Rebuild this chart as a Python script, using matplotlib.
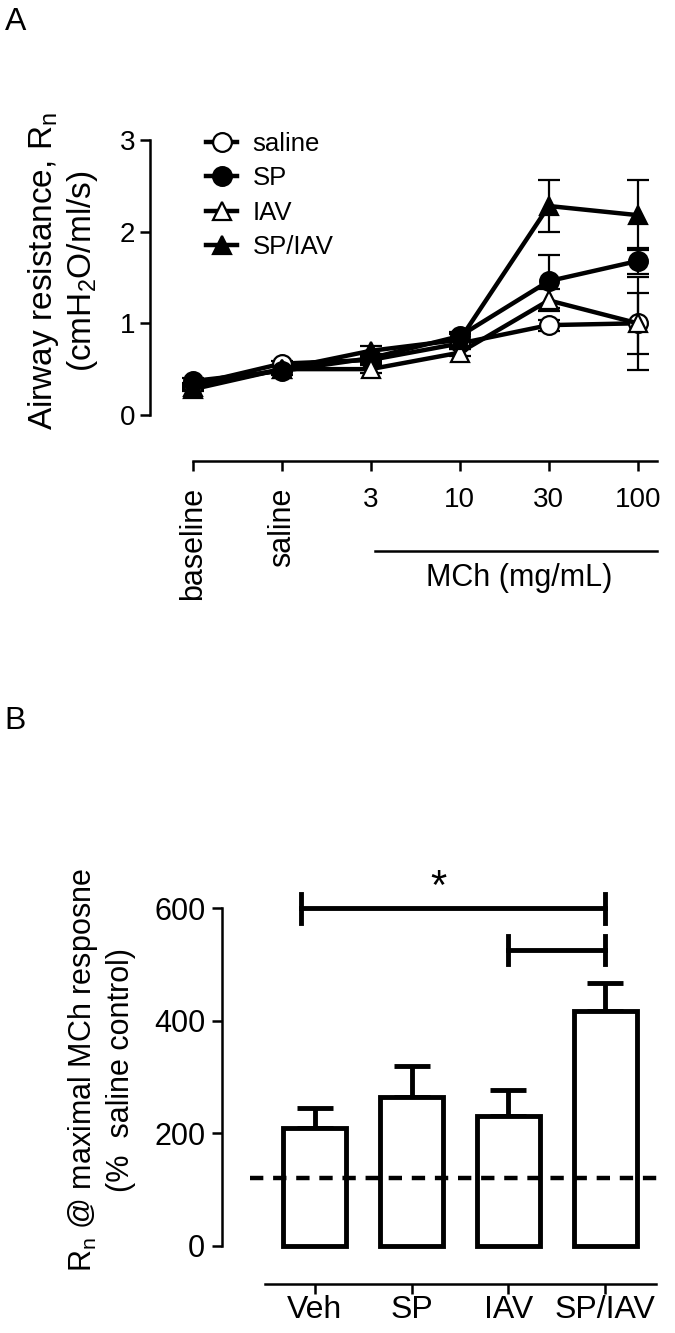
import numpy as np
import matplotlib
matplotlib.use('Agg')
import matplotlib.pyplot as plt
from matplotlib.lines import Line2D

plt.rcParams['font.family'] = ['Liberation Sans', 'DejaVu Sans']

# ---- Panel A data ----
doses = ['baseline', 'saline', '3', '10', '30', '100']
groups = ['saline', 'SP', 'IAV', 'SP/IAV']
rn_saline = [0.33, 0.56, 0.60, 0.78, 0.98, 1.00]
rn_sp = [0.37, 0.48, 0.62, 0.86, 1.46, 1.68]
rn_iav = [0.30, 0.50, 0.50, 0.68, 1.25, 1.00]
rn_spiav = [0.28, 0.50, 0.70, 0.82, 2.28, 2.18]
err_saline = [0.02, 0.03, 0.03, 0.04, 0.06, 0.33]
err_sp = [0.03, 0.04, 0.04, 0.05, 0.29, 0.14]
err_iav = [0.02, 0.03, 0.04, 0.04, 0.12, 0.51]
err_spiav = [0.02, 0.03, 0.05, 0.06, 0.28, 0.38]

# ---- Panel B data ----
bar_labels = ['Veh', 'SP', 'IAV', 'SP/IAV']
bar_values = [210, 265, 230, 418]
bar_err = [35, 55, 47, 50]
saline_ref = 120
brackets = [(-0.14, 3, 600), (2, 3, 526)]
star_pos = (1.28, 636)

fig = plt.figure(figsize=(6.75, 13.33), dpi=100)

# ================= Panel A =================
axA = fig.add_axes([0.2222, 0.6509, 0.7556, 0.2647])
x = np.arange(len(doses))
styles = [('o', 'white'), ('o', 'black'), ('^', 'white'), ('^', 'black')]
series = [rn_saline, rn_sp, rn_iav, rn_spiav]
errs = [err_saline, err_sp, err_iav, err_spiav]
for (mk, fc), y, e in zip(styles, series, errs):
    axA.errorbar(x, y, yerr=e, color='black', lw=3.2, marker=mk, ms=13.5,
                 mfc=fc, mec='black', mew=1.6, ecolor='black', elinewidth=1.6,
                 capsize=8, capthick=1.6, zorder=3)

axA.set_xlim(-0.48, 5.25)
axA.set_ylim(-0.55, 3.3)
axA.spines['top'].set_visible(False)
axA.spines['right'].set_visible(False)
axA.spines['left'].set_bounds(0, 3)
axA.spines['bottom'].set_position(('data', -0.5))
axA.spines['bottom'].set_bounds(0, 5.22)
for s in ['left', 'bottom']:
    axA.spines[s].set_linewidth(1.8)
axA.set_yticks([0, 1, 2, 3])
axA.set_yticklabels(['0', '1', '2', '3'], fontsize=20)
axA.set_xticks(x)
axA.set_xticklabels(doses, fontsize=20)
for lbl in axA.get_xticklabels()[:2]:
    lbl.set_rotation(90)
    lbl.set_va('top')
    lbl.set_fontsize(22)
axA.tick_params(axis='both', width=1.8, length=7)
axA.tick_params(axis='x', pad=12)
fig.text(63 / 675, 1 - 271 / 1333,
         'Airway resistance, R$_\\mathregular{n}$\n(cmH$_\\mathregular{2}$O/ml/s)',
         fontsize=24, rotation=90, ha='center', va='center', linespacing=1.15)

# MCh bracket line + label
axA.plot([2.05, 5.22], [-1.48, -1.48], color='black', lw=1.8, clip_on=False)
axA.text(3.67, -1.78, 'MCh (mg/mL)', fontsize=22, ha='center', va='center')

handles = [Line2D([0], [0], color='black', lw=3.2, marker=mk, ms=13.5, mfc=fc,
                  mec='black', mew=1.6) for mk, fc in styles]
axA.legend(handles, groups, loc='upper left', bbox_to_anchor=(0.065, 1.01),
           frameon=False, fontsize=18.5, handlelength=1.2, labelspacing=0.4,
           handletextpad=0.6)

fig.text(0.007, 0.995, 'A', fontsize=23, va='top', ha='left')

# ================= Panel B =================
axB = fig.add_axes([0.3289, 0.0338, 0.6607, 0.3184])
xb = np.arange(len(bar_labels))
axB.bar(xb, bar_values, width=0.65, color='white', edgecolor='black',
        linewidth=3.5, zorder=2)
axB.errorbar(xb, bar_values, yerr=[np.zeros(len(bar_err)), bar_err],
             fmt='none', ecolor='black', elinewidth=3.5, capsize=13,
             capthick=3.5, zorder=1)
axB.plot([-0.67, 3.62], [saline_ref, saline_ref], color='black', lw=3.2,
         ls=(0, (3, 2.2)), zorder=3, clip_on=False)

for x0, x1, yb in brackets:
    axB.plot([x0, x1], [yb, yb], color='black', lw=3.5, clip_on=False)
    for xe in (x0, x1):
        axB.plot([xe, xe], [yb - 25, yb + 25], color='black', lw=3.5, clip_on=False)
axB.text(star_pos[0], star_pos[1], '*', fontsize=30, ha='center', va='center')

axB.set_xlim(-0.96, 3.65)
axB.set_ylim(-75, 680)
axB.spines['top'].set_visible(False)
axB.spines['right'].set_visible(False)
axB.spines['left'].set_bounds(0, 600)
axB.spines['bottom'].set_position(('data', -68))
axB.spines['bottom'].set_bounds(-0.52, 3.53)
for s in ['left', 'bottom']:
    axB.spines[s].set_linewidth(1.8)
axB.set_yticks([0, 200, 400, 600])
axB.set_yticklabels(['0', '200', '400', '600'], fontsize=22)
axB.set_xticks(xb)
axB.set_xticklabels(bar_labels, fontsize=23)
axB.tick_params(axis='both', width=1.8, length=7)
axB.tick_params(axis='y', pad=5)
axB.tick_params(axis='x', pad=1)
fig.text(101 / 675, 1 - 1070 / 1333,
         'R$_\\mathregular{n}$ @ maximal MCh resposne\n(%  saline control)',
         fontsize=22, rotation=90, ha='center', va='center', linespacing=1.25)

fig.text(0.007, 0.4705, 'B', fontsize=23, va='top', ha='left')

fig.savefig('out.png', dpi=100)
